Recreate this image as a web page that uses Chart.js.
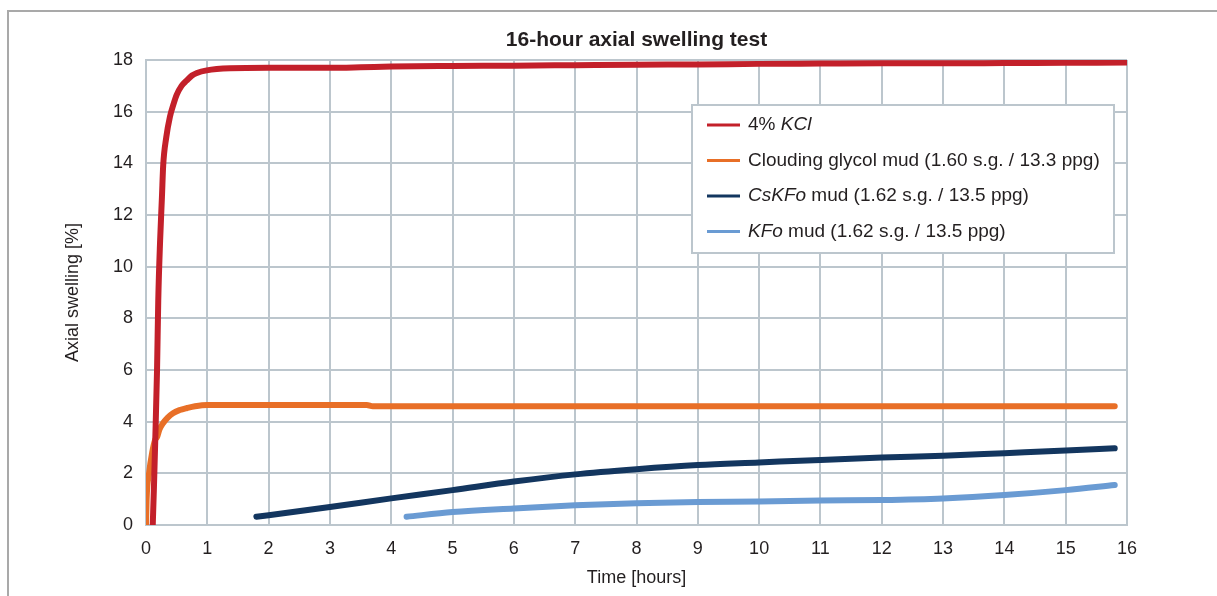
<!DOCTYPE html>
<html>
<head>
<meta charset="utf-8">
<script src="https://cdn.jsdelivr.net/npm/chart.js@4"></script>
<style>
  html, body { margin: 0; padding: 0; background: #fff; }
  #wrap { width: 1217px; height: 596px; position: relative; }
</style>
</head>
<body>
<div id="wrap"><canvas id="grafico"></canvas></div>
<script>
// Datos (tiempo en horas, hinchamiento axial en %)
const kclTime = [0.11, 0.13, 0.15, 0.18, 0.2, 0.23, 0.26, 0.28, 0.33, 0.39, 0.45, 0.5, 0.58, 0.66, 0.75, 0.83, 0.99, 1.37, 2, 3, 3.5, 4, 5, 6, 7, 8, 9, 10, 11, 12, 13, 14, 15, 16];
const kclSwelling = [0, 1.5, 3.2, 6, 8.7, 11, 12.7, 13.9, 15.0, 15.8, 16.3, 16.65, 17.0, 17.2, 17.4, 17.5, 17.6, 17.68, 17.7, 17.7, 17.72, 17.75, 17.77, 17.78, 17.8, 17.82, 17.83, 17.85, 17.86, 17.87, 17.87, 17.88, 17.89, 17.9];

const glycolTime = [0, 0.01, 0.05, 0.1, 0.15, 0.18, 0.22, 0.28, 0.35, 0.44, 0.55, 0.67, 0.8, 1.0, 2, 3, 3.6, 3.7, 5, 7, 9, 11, 13, 15, 15.8];
const glycolSwelling = [0, 1, 2, 2.8, 3.3, 3.4, 3.7, 3.95, 4.15, 4.33, 4.45, 4.53, 4.6, 4.65, 4.65, 4.65, 4.65, 4.6, 4.6, 4.6, 4.6, 4.6, 4.6, 4.6, 4.6];

const cskfoTime = [1.8, 2, 3, 4, 5, 6, 7, 8, 9, 10, 11, 12, 13, 14, 15, 15.8];
const cskfoSwelling = [0.32, 0.38, 0.7, 1.03, 1.35, 1.68, 1.96, 2.16, 2.32, 2.42, 2.52, 2.61, 2.68, 2.78, 2.88, 2.97];

const kfoTime = [4.25, 5, 6, 7, 8, 9, 10, 11, 12, 13, 14, 15, 15.8];
const kfoSwelling = [0.32, 0.5, 0.64, 0.76, 0.84, 0.89, 0.91, 0.95, 0.97, 1.03, 1.16, 1.35, 1.55];

const chartTitle = "16-hour axial swelling test";
const seriesLabels = ["4% KCl", "Clouding glycol mud (1.60 s.g. / 13.3 ppg)", "CsKFo mud (1.62 s.g. / 13.5 ppg)", "KFo mud (1.62 s.g. / 13.5 ppg)"];
// Partes de la leyenda: [texto, cursiva]
const legendParts = [
  [["4% ", false], ["KCl", true]],
  [["Clouding glycol mud (1.60 s.g. / 13.3 ppg)", false]],
  [["CsKFo", true], [" mud (1.62 s.g. / 13.5 ppg)", false]],
  [["KFo", true], [" mud (1.62 s.g. / 13.5 ppg)", false]]
];
const seriesColors = ["#c3202a", "#e86f27", "#13365f", "#6a9bd3"];

const xTicks = [0, 1, 2, 3, 4, 5, 6, 7, 8, 9, 10, 11, 12, 13, 14, 15, 16];
const yTicks = [0, 2, 4, 6, 8, 10, 12, 14, 16, 18];

const FONT = "'Liberation Sans', Arial, Helvetica, sans-serif";
const TEXT = "#231f20";
const GRID = "#bcc6cd";

function juntar(xs, ys) {
  return xs.map((x, i) => ({ x: x, y: ys[i] }));
}

// Marco exterior (línea superior e izquierda) y título centrado sobre el área
const marco = {
  id: "marco",
  beforeDraw(chart) {
    const ctx = chart.ctx;
    ctx.save();
    ctx.fillStyle = "#fff";
    ctx.fillRect(0, 0, chart.width, chart.height);
    ctx.strokeStyle = "#a9a9a9";
    ctx.lineWidth = 2;
    ctx.beginPath();
    ctx.moveTo(chart.width, 11);
    ctx.lineTo(8, 11);
    ctx.lineTo(8, chart.height);
    ctx.stroke();
    const area = chart.chartArea;
    ctx.fillStyle = TEXT;
    ctx.font = "bold 21px " + FONT;
    ctx.textAlign = "center";
    ctx.textBaseline = "middle";
    ctx.fillText(chartTitle, (area.left + area.right) / 2, 40);
    ctx.restore();
  }
};

// Leyenda dentro del área del gráfico, con partes en cursiva
const leyenda = {
  id: "leyenda",
  afterDatasetsDraw(chart) {
    const ctx = chart.ctx;
    const area = chart.chartArea;
    const w = 422, h = 148;
    const left = area.right - 13 - w;
    const top = area.top + 45;
    ctx.save();
    ctx.fillStyle = "#fff";
    ctx.fillRect(left, top, w, h);
    ctx.strokeStyle = GRID;
    ctx.lineWidth = 2;
    ctx.strokeRect(left, top, w, h);
    ctx.textBaseline = "middle";
    ctx.fillStyle = TEXT;
    legendParts.forEach((parts, i) => {
      const y = top + 20 + i * 35.5;
      ctx.strokeStyle = chart.data.datasets[i].borderColor;
      ctx.lineWidth = 3;
      ctx.beginPath();
      ctx.moveTo(left + 15, y);
      ctx.lineTo(left + 48, y);
      ctx.stroke();
      let x = left + 56;
      parts.forEach(([texto, cursiva]) => {
        ctx.font = (cursiva ? "italic " : "") + "19px " + FONT;
        ctx.fillText(texto, x, y);
        x += ctx.measureText(texto).width;
      });
    });
    ctx.restore();
  }
};

const datos = [
  juntar(kclTime, kclSwelling),
  juntar(glycolTime, glycolSwelling),
  juntar(cskfoTime, cskfoSwelling),
  juntar(kfoTime, kfoSwelling)
];

new Chart(document.getElementById("grafico"), {
  type: "line",
  data: {
    datasets: datos.map((d, i) => ({
      label: seriesLabels[i],
      data: d,
      borderColor: seriesColors[i],
      backgroundColor: seriesColors[i],
      borderWidth: 6,
      borderCapStyle: "round",
      pointRadius: 0,
      cubicInterpolationMode: "monotone",
      fill: false
    }))
  },
  plugins: [marco, leyenda],
  options: {
    responsive: true,
    maintainAspectRatio: false,
    animation: false,
    layout: { padding: { left: 0, right: 90, top: 60, bottom: 0 } },
    plugins: {
      legend: { display: false },
      tooltip: { enabled: false },
      title: { display: false }
    },
    scales: {
      x: {
        type: "linear",
        min: 0,
        max: 16,
        afterFit(scale) { scale.height = 71; },
        afterBuildTicks(scale) { scale.ticks = xTicks.map(v => ({ value: v })); },
        grid: { color: GRID, lineWidth: 2, drawTicks: false },
        border: { color: GRID, width: 2 },
        ticks: { color: TEXT, padding: 13, font: { family: FONT, size: 18 } },
        title: {
          display: true,
          text: "Time [hours]",
          color: TEXT,
          font: { family: FONT, size: 18 },
          padding: { top: 0, bottom: 7 }
        }
      },
      y: {
        min: 0,
        max: 18,
        afterFit(scale) { scale.width = 146; },
        afterBuildTicks(scale) { scale.ticks = yTicks.map(v => ({ value: v })); },
        grid: { color: GRID, lineWidth: 2, drawTicks: false },
        border: { color: GRID, width: 2 },
        ticks: { color: TEXT, padding: 13, font: { family: FONT, size: 18 } },
        title: {
          display: true,
          text: "Axial swelling [%]",
          color: TEXT,
          font: { family: FONT, size: 18 },
          padding: { top: 62, bottom: 0 }
        }
      }
    }
  }
});
</script>
</body>
</html>
